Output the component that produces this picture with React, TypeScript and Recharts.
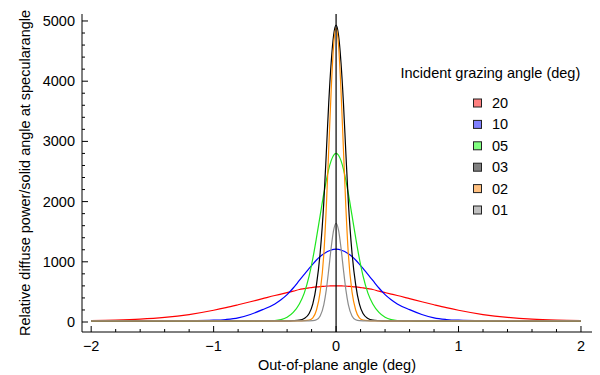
import React from 'react';
import { LineChart, Line, XAxis, YAxis, ReferenceLine, Legend } from 'recharts';

const FONT = '"Liberation Sans", Arial, Helvetica, sans-serif';

// Out-of-plane angle samples (deg)
const angles = [
  -2, -1.8, -1.6, -1.4, -1.2, -1, -0.9, -0.8, -0.7, -0.6, -0.5, -0.45, -0.4, -0.35, -0.3, -0.26, -0.22,
  -0.19, -0.16, -0.13, -0.1, -0.08, -0.06, -0.04, -0.02, 0, 0.02, 0.04, 0.06, 0.08, 0.1, 0.13, 0.16,
  0.19, 0.22, 0.26, 0.3, 0.35, 0.4, 0.45, 0.5, 0.6, 0.7, 0.8, 0.9, 1, 1.2, 1.4, 1.6, 1.8, 2,
];

const g20 = [
  25, 32, 47, 76, 124, 195, 238, 286, 336, 388, 440, 464, 488, 512, 540, 554, 567, 576, 583, 589, 593, 596, 598, 599, 600,
  600,
  600, 599, 598, 596, 593, 589, 583, 576, 567, 554, 540, 512, 488, 464, 440, 388, 336, 286, 238, 195, 124, 76, 47, 32, 25,
];
const g10 = [
  20, 20, 20, 20, 22, 30, 42, 68, 125, 205, 300, 370, 455, 565, 690, 790, 890, 962, 1030, 1088, 1135, 1160, 1180, 1196, 1206,
  1210,
  1206, 1196, 1180, 1160, 1135, 1088, 1030, 962, 890, 790, 690, 565, 455, 370, 300, 205, 125, 68, 42, 30, 22, 20, 20, 20, 20,
];
const g05 = [
  20, 20, 20, 20, 20, 20, 20, 20, 20, 21, 25, 40, 80, 160, 300, 480, 765, 1055, 1400, 1770, 2135, 2350, 2540, 2680, 2770,
  2800,
  2770, 2680, 2540, 2350, 2135, 1770, 1400, 1055, 765, 480, 300, 160, 80, 40, 25, 21, 20, 20, 20, 20, 20, 20, 20, 20, 20,
];
const g03 = [
  20, 20, 20, 20, 20, 20, 20, 20, 20, 20, 20, 20, 20, 23, 32, 60, 140, 300, 620, 1150, 2000, 2800, 3640, 4310, 4765,
  4930,
  4765, 4310, 3640, 2800, 2000, 1150, 620, 300, 140, 60, 32, 23, 20, 20, 20, 20, 20, 20, 20, 20, 20, 20, 20, 20, 20,
];
const g02 = [
  20, 20, 20, 20, 20, 20, 20, 20, 20, 20, 20, 20, 20, 20, 20, 23, 34, 70, 200, 500, 1130, 1900, 2870, 3850, 4600,
  4880,
  4600, 3850, 2870, 1900, 1130, 500, 200, 70, 34, 23, 20, 20, 20, 20, 20, 20, 20, 20, 20, 20, 20, 20, 20, 20, 20,
];
const g01 = [
  20, 20, 20, 20, 20, 20, 20, 20, 20, 20, 20, 20, 20, 20, 20, 20, 20, 22, 37, 100, 290, 535, 870, 1235, 1525,
  1640,
  1525, 1235, 870, 535, 290, 100, 37, 22, 20, 20, 20, 20, 20, 20, 20, 20, 20, 20, 20, 20, 20, 20, 20, 20, 20,
];

const seriesKeys = ['g20', 'g10', 'g05', 'g03', 'g02', 'g01'];
const seriesNames = ['20', '10', '05', '03', '02', '01'];
const seriesColors = ['#ff0000', '#0000ff', '#1ee61e', '#000000', '#ff8c00', '#8c8c8c'];
const swatchColors = ['#ff8080', '#8080ff', '#80ff80', '#808080', '#ffc080', '#c0c0c0'];
const seriesValues = [g20, g10, g05, g03, g02, g01];

const xTicks = [-2, -1.8, -1.6, -1.4, -1.2, -1, -0.8, -0.6, -0.4, -0.2, 0, 0.2, 0.4, 0.6, 0.8, 1, 1.2, 1.4, 1.6, 1.8, 2];
const yTicks = [
  0, 200, 400, 600, 800, 1000, 1200, 1400, 1600, 1800, 2000, 2200, 2400, 2600, 2800, 3000, 3200, 3400, 3600, 3800,
  4000, 4200, 4400, 4600, 4800, 5000,
];

const legendTitle = 'Incident grazing angle (deg)';
const xLabel = 'Out-of-plane angle (deg)';
const yLabel = 'Relative diffuse power/solid angle at specularangle';

const rows = angles.map((a, i) => {
  const r: Record<string, number> = { x: a };
  seriesKeys.forEach((k, j) => {
    r[k] = seriesValues[j][i];
  });
  return r;
});

const xDomain: [number, number] = [-2.075, 2.09];
const yDomain: [number, number] = [-166, 5116];

const isMajorX = (v: number) => Math.abs(v - Math.round(v)) < 1e-6;
const isMajorY = (v: number) => v % 1000 === 0;
const fmtX = (v: number) => (v < 0 ? '\u2212' + Math.abs(v) : String(v));

const BottomTick = (p: any) => {
  const { x, y, payload } = p;
  const v = payload.value;
  const major = isMajorX(v);
  return (
    <g>
      <line x1={x} x2={x} y1={y} y2={y - (major ? 6 : 3)} stroke="#000" strokeWidth={1} />
      {major && (
        <text x={x} y={y + 19} textAnchor="middle" fontSize={14.5} fontFamily={FONT} fill="#000">
          {fmtX(v)}
        </text>
      )}
    </g>
  );
};

const TopTick = (p: any) => {
  const { x, y, payload } = p;
  const major = isMajorX(payload.value);
  return <line x1={x} x2={x} y1={y} y2={y + (major ? 6 : 3)} stroke="#000" strokeWidth={1} />;
};

const LeftTick = (p: any) => {
  const { x, y, payload } = p;
  const v = payload.value;
  const major = isMajorY(v);
  return (
    <g>
      <line x1={x} x2={x + (major ? 6 : 3)} y1={y} y2={y} stroke="#000" strokeWidth={1} />
      {major && (
        <text x={x - 7} y={y + 5} textAnchor="end" fontSize={14.5} fontFamily={FONT} fill="#000">
          {String(v)}
        </text>
      )}
    </g>
  );
};

const RightTick = (p: any) => {
  const { x, y, payload } = p;
  const major = isMajorY(payload.value);
  return <line x1={x} x2={x - (major ? 6 : 3)} y1={y} y2={y} stroke="#000" strokeWidth={1} />;
};

const LegendBox = () => (
  <svg width={200} height={170} style={{ display: 'block', overflow: 'visible' }}>
    <text x={0.5} y={20.3} fontSize={14.5} fontFamily={FONT} fill="#000">
      {legendTitle}
    </text>
    {seriesNames.map((n, i) => {
      const c = 45 + i * 21.4;
      return (
        <g key={n}>
          <rect x={73.5} y={c - 4} width={8} height={8} fill={swatchColors[i]} stroke="#222" strokeWidth={1} />
          <text x={92} y={c + 5} fontSize={14.5} fontFamily={FONT} fill="#000">
            {n}
          </text>
        </g>
      );
    })}
  </svg>
);

export default function App() {
  return (
    <div style={{ width: 592, height: 366 }}>
      <LineChart width={592} height={366} data={rows} margin={{ top: 6, right: 8, bottom: 0, left: 0 }}>
        <XAxis
          dataKey="x"
          type="number"
          domain={xDomain}
          allowDataOverflow
          ticks={xTicks}
          interval={0}
          height={42}
          tickLine={false}
          tickSize={0}
          tickMargin={0}
          tick={(p: any) => <BottomTick {...p} />}
          axisLine={{ stroke: '#000', strokeWidth: 1 }}
          label={{
            value: xLabel,
            position: 'insideBottom',
            offset: 4.5,
            fill: '#000',
            style: { fontSize: 14.5, fontFamily: FONT, textAnchor: 'middle' },
          }}
        />
        <XAxis
          xAxisId="top"
          orientation="top"
          type="number"
          domain={xDomain}
          allowDataOverflow
          ticks={xTicks}
          interval={0}
          height={0}
          tickLine={false}
          tickSize={0}
          tickMargin={0}
          tick={(p: any) => <TopTick {...p} />}
          axisLine={{ stroke: '#000', strokeWidth: 1 }}
        />
        <YAxis
          type="number"
          domain={yDomain}
          allowDataOverflow
          ticks={yTicks}
          interval={0}
          width={74}
          tickLine={false}
          tickSize={0}
          tickMargin={0}
          tick={(p: any) => <LeftTick {...p} />}
          axisLine={{ stroke: '#000', strokeWidth: 1 }}
          label={{
            value: yLabel,
            angle: -90,
            position: 'insideLeft',
            offset: 17,
            fill: '#000',
            style: { fontSize: 14.5, fontFamily: FONT, textAnchor: 'middle' },
          }}
        />
        <YAxis
          yAxisId="right"
          orientation="right"
          type="number"
          domain={yDomain}
          allowDataOverflow
          ticks={yTicks}
          interval={0}
          width={0}
          tickLine={false}
          tickSize={0}
          tickMargin={0}
          tick={(p: any) => <RightTick {...p} />}
          axisLine={{ stroke: '#000', strokeWidth: 1 }}
        />
        {seriesKeys.map((k, i) => (
          <Line
            key={k}
            dataKey={k}
            name={seriesNames[i]}
            type="monotone"
            stroke={seriesColors[i]}
            strokeWidth={1.2}
            dot={false}
            activeDot={false}
            isAnimationActive={false}
          />
        ))}
        <ReferenceLine x={0} stroke="#000" strokeWidth={1.2} />
        <Legend
          layout="horizontal"
          verticalAlign="middle"
          align="center"
          wrapperStyle={{ left: 392, top: 50, width: 200, height: 170 }}
          content={() => <LegendBox />}
        />
      </LineChart>
    </div>
  );
}
